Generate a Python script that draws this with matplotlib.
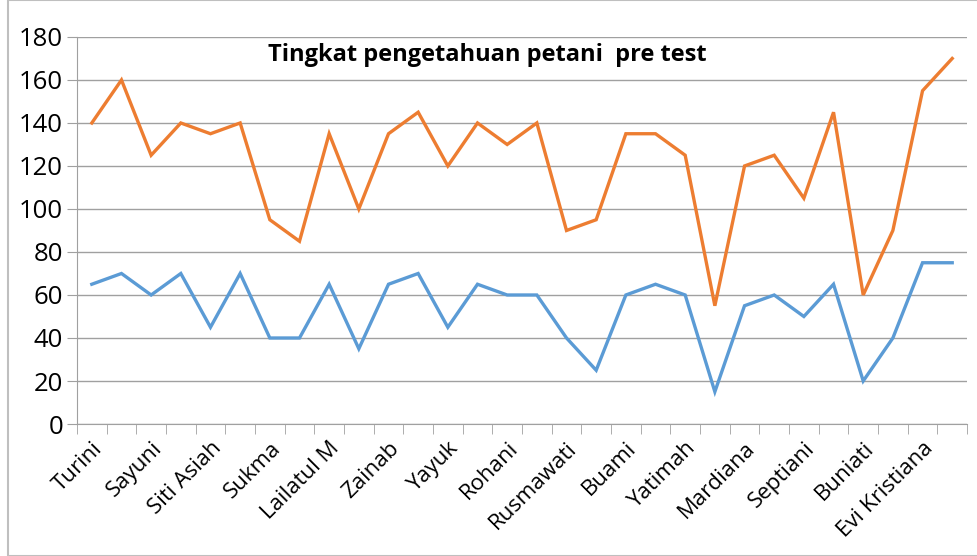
import numpy as np
import matplotlib.pyplot as plt
from matplotlib.patches import Rectangle

# =======================================================
# DATA
# =======================================================

shown_names = ["Turini", "Sayuni", "Siti Asiah", "Sukma", "Lailatul M", "Zainab",
               "Yayuk", "Rohani", "Rusmawati", "Buami", "Yatimah", "Mardiana",
               "Septiani", "Buniati", "Evi Kristiana"]

pre_blue = [65, 70, 60, 70, 45, 70, 40, 40, 65, 35, 65, 70, 45, 65, 60,
            60, 40, 25, 60, 65, 60, 15, 55, 60, 50, 65, 20, 40, 75, 75]
pre_orange = [140, 160, 125, 140, 135, 140, 95, 85, 135, 100, 135, 145, 120, 140, 130,
              140, 90, 95, 135, 135, 125, 55, 120, 125, 105, 145, 60, 90, 155, 170]

TITLE = "Tingkat pengetahuan petani  pre test"

# =======================================================
# PLOT
# =======================================================

plt.rcParams["font.family"] = ["Open Sans", "DejaVu Sans"]

fig = plt.figure(figsize=(9.78, 5.56), dpi=100)
ax = fig.add_axes([0.0787, 0.2374, 0.9101, 0.6961])

n = len(pre_blue)
x = np.arange(n)

ax.plot(x, pre_blue, color="#5B9BD5", lw=2.4, solid_joinstyle="miter")
ax.plot(x, pre_orange, color="#ED7D31", lw=2.4, solid_joinstyle="miter")

ax.set_xlim(-0.5, n - 0.5)
ax.set_ylim(0, 180)
ax.set_yticks(range(0, 181, 20))
ax.tick_params(axis="y", labelsize=18.5, length=7, color="#a0a0a0", pad=3)

ax.set_xticks(x[::2])
ax.set_xticklabels(shown_names, rotation=45, ha="right", rotation_mode="anchor", fontsize=16)
ax.set_xticks(np.arange(-0.5, n, 1), minor=True)
ax.tick_params(axis="x", which="major", length=0, pad=10)
ax.tick_params(axis="x", which="minor", length=7, color="#a0a0a0")

ax.grid(axis="y", color="#a0a0a0", lw=1)
ax.set_axisbelow(True)
for s in ["top", "right"]:
    ax.spines[s].set_visible(False)
ax.spines["left"].set_color("#a0a0a0")
ax.spines["bottom"].set_color("#a0a0a0")

ax.text(0.4615, 0.953, TITLE, transform=ax.transAxes, ha="center", va="center",
        fontsize=17, fontweight="bold")

# chart border
fig.patches.append(Rectangle((8 / 978, 0), 1, 1, transform=fig.transFigure,
                             fill=False, edgecolor="#bfbfbf", lw=1.5))

fig.savefig("out.png", dpi=100)
